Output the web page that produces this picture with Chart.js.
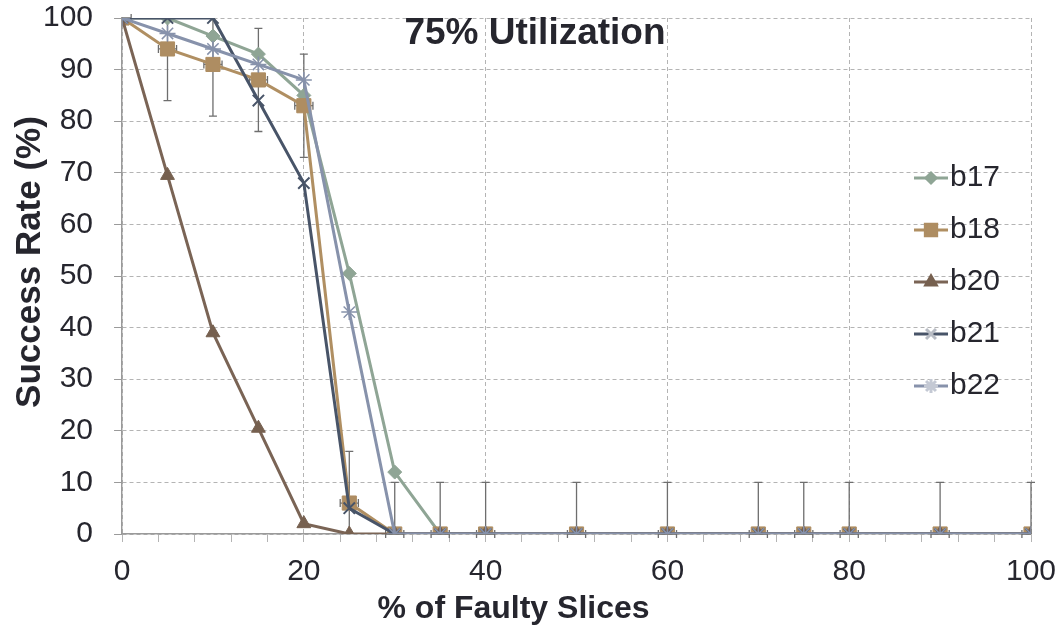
<!DOCTYPE html>
<html>
<head>
<meta charset="utf-8">
<title>75% Utilization</title>
<script src="https://cdn.jsdelivr.net/npm/chart.js@4.4.1/dist/chart.umd.min.js"></script>
<style>
  html, body { margin: 0; padding: 0; background: #fff; }
  #wrap { width: 1060px; height: 630px; }
</style>
</head>
<body>
<div id="wrap"><canvas id="successChart"></canvas></div>
<script>
// values
const faultyPct = [0, 5, 10, 15, 20, 25, 30, 35, 40, 50, 60, 70, 75, 80, 90, 100];
const b17 = [100, 100, 96.5, 93, 85, 50.5, 12, 0, 0, 0, 0, 0, 0, 0, 0, 0];
const b18 = [100, 94, 91, 88, 83, 6, 0, 0, 0, 0, 0, 0, 0, 0, 0, 0];
const b20 = [100, 69.5, 39, 20.5, 2, 0, 0, 0, 0, 0, 0, 0, 0, 0, 0, 0];
const b21 = [100, 100, 100, 84, 68, 5, 0, 0, 0, 0, 0, 0, 0, 0, 0, 0];
const b22 = [100, 97, 94, 91, 88, 43, 0, 0, 0, 0, 0, 0, 0, 0, 0, 0];
// error bars (shown on b18)
const b18ErrY = [0, 10, 10, 10, 10, 10, 10, 10, 10, 10, 10, 10, 10, 10, 10, 10];
const b18ErrX = [1, 1, 1, 1, 1, 1, 1, 1, 1, 1, 1, 1, 1, 1, 1, 1];

const textColor = '#26262e';
const fontFamily = "'Liberation Sans', Arial, Helvetica, sans-serif";

function toPoints(values) {
    return faultyPct.map(function(x, i) { return { x: x, y: values[i] }; });
}

// legend icon: short line with the series marker in the middle
function legendIcon(ds) {
    const c = document.createElement('canvas');
    c.width = 34;
    c.height = 18;
    const g = c.getContext('2d');
    g.strokeStyle = ds.borderColor;
    g.lineWidth = 3;
    g.beginPath();
    g.moveTo(0, 9);
    g.lineTo(34, 9);
    g.stroke();
    g.fillStyle = ds.pointBackgroundColor;
    g.strokeStyle = ds.legendMarkerColor || ds.pointBorderColor;
    Chart.helpers.drawPoint(g, {
        pointStyle: ds.pointStyle,
        radius: ds.legendRadius,
        borderWidth: ds.legendBorder,
        rotation: 0
    }, 17, 9);
    return c;
}

// vertical and horizontal error bars with caps
const errorBars = {
    id: 'errorBars',
    beforeDatasetsDraw(chart) {
        const ctx = chart.ctx;
        const x = chart.scales.x;
        const y = chart.scales.y;
        const cap = 4;
        ctx.save();
        ctx.strokeStyle = '#6e6e6e';
        ctx.lineWidth = 1.3;
        faultyPct.forEach(function(xv, i) {
            const yv = b18[i];
            const px = x.getPixelForValue(xv);
            const py = y.getPixelForValue(yv);
            const e = b18ErrY[i];
            if (e > 0) {
                const hi = yv + e, lo = yv - e;
                const yHi = y.getPixelForValue(Math.min(hi, y.max));
                const yLo = y.getPixelForValue(Math.max(lo, y.min));
                ctx.beginPath();
                ctx.moveTo(px, yHi);
                ctx.lineTo(px, yLo);
                if (hi <= y.max) { ctx.moveTo(px - cap, yHi); ctx.lineTo(px + cap, yHi); }
                if (lo >= y.min) { ctx.moveTo(px - cap, yLo); ctx.lineTo(px + cap, yLo); }
                ctx.stroke();
            }
            const ex = b18ErrX[i];
            if (ex > 0) {
                const l = xv - ex, r = xv + ex;
                const xL = x.getPixelForValue(Math.max(l, x.min));
                const xR = x.getPixelForValue(Math.min(r, x.max));
                ctx.beginPath();
                ctx.moveTo(xL, py);
                ctx.lineTo(xR, py);
                if (l >= x.min) { ctx.moveTo(xL, py - cap); ctx.lineTo(xL, py + cap); }
                if (r <= x.max) { ctx.moveTo(xR, py - cap); ctx.lineTo(xR, py + cap); }
                ctx.stroke();
            }
        });
        ctx.restore();
    }
};

// nudge an axis title off the centre of its axis
function shiftTitle(scale, dx, dy) {
    if (scale._titleShifted) return;
    scale._titleShifted = true;
    const draw = scale.drawTitle;
    scale.drawTitle = function() {
        this.left += dx; this.right += dx; this.top += dy; this.bottom += dy;
        draw.apply(this, arguments);
        this.left -= dx; this.right -= dx; this.top -= dy; this.bottom -= dy;
    };
}

// legend sits inside the plot area on the right, like the original
const placeBoxes = {
    id: 'placeBoxes',
    afterLayout(chart) {
        const area = chart.chartArea;
        const lg = chart.legend;
        lg.left = area.right - 126;
        lg.right = area.right;
        lg.top = area.top + 6;
        lg.bottom = area.bottom + 6;
        shiftTitle(chart.scales.x, -63, 0);
        shiftTitle(chart.scales.y, 0, -14);
    }
};

document.addEventListener('DOMContentLoaded', function() {
    Chart.defaults.font.family = fontFamily;
    Chart.defaults.color = textColor;
    Chart.defaults.responsive = true;
    Chart.defaults.maintainAspectRatio = false;
    Chart.defaults.animation = false;

    const ctx = document.getElementById('successChart').getContext('2d');
    const chart = new Chart(ctx, {
        type: 'line',
        data: {
            datasets: [
                {
                    label: 'b17',
                    data: toPoints(b17),
                    borderColor: '#8fa595',
                    pointBackgroundColor: '#8fa595',
                    pointBorderColor: '#8fa595',
                    pointStyle: 'rectRot',
                    pointRadius: 7,
                    pointBorderWidth: 1,
                    legendRadius: 5,
                    legendBorder: 1,
                    order: 4
                },
                {
                    label: 'b18',
                    data: toPoints(b18),
                    borderColor: '#b08f62',
                    pointBackgroundColor: '#ae8d62',
                    pointBorderColor: '#ae8d62',
                    pointStyle: 'rect',
                    pointRadius: 10,
                    pointBorderWidth: 1,
                    legendRadius: 8,
                    legendBorder: 1,
                    order: 3
                },
                {
                    label: 'b20',
                    data: toPoints(b20),
                    borderColor: '#7a6455',
                    pointBackgroundColor: '#76604f',
                    pointBorderColor: '#76604f',
                    pointStyle: 'triangle',
                    pointRadius: 8,
                    pointBorderWidth: 1,
                    legendRadius: 6,
                    legendBorder: 1,
                    order: 2
                },
                {
                    label: 'b21',
                    data: toPoints(b21),
                    borderColor: '#485468',
                    pointBackgroundColor: '#485468',
                    pointBorderColor: '#485468',
                    legendMarkerColor: '#b8bcc4',
                    pointStyle: 'crossRot',
                    pointRadius: 8,
                    pointBorderWidth: 2,
                    legendRadius: 7,
                    legendBorder: 1,
                    order: 1
                },
                {
                    label: 'b22',
                    data: toPoints(b22),
                    borderColor: '#8792ab',
                    pointBackgroundColor: '#8792ab',
                    pointBorderColor: '#8792ab',
                    legendMarkerColor: '#c4c9d4',
                    pointStyle: 'star',
                    pointRadius: 8,
                    pointBorderWidth: 1.5,
                    legendRadius: 7,
                    legendBorder: 1,
                    order: 0
                }
            ]
        },
        options: {
            layout: {
                padding: { left: 10, right: 0, top: 0, bottom: 1 }
            },
            elements: {
                line: { borderWidth: 3, tension: 0, fill: false }
            },
            plugins: {
                title: {
                    display: true,
                    text: '75% Utilization',
                    color: textColor,
                    font: { size: 37, weight: 'bold' },
                    padding: { top: 11.8, bottom: -38.2 }
                },
                legend: {
                    position: 'chartArea',
                    fullSize: false,
                    align: 'center',
                    labels: {
                        usePointStyle: true,
                        pointStyleWidth: 8,
                        padding: 22,
                        color: textColor,
                        font: { size: 30 },
                        generateLabels: function(chart) {
                            const items = Chart.defaults.plugins.legend.labels.generateLabels(chart);
                            items.forEach(function(it) {
                                it.pointStyle = legendIcon(chart.data.datasets[it.datasetIndex]);
                            });
                            return items;
                        },
                        sort: function(a, b) { return a.datasetIndex - b.datasetIndex; }
                    }
                },
                tooltip: { enabled: false }
            },
            scales: {
                x: {
                    type: 'linear',
                    min: 0,
                    max: 100,
                    afterFit: function(s) { s.paddingLeft = 0; s.paddingRight = 29; },
                    ticks: {
                        stepSize: 4,
                        autoSkip: false,
                        maxRotation: 0,
                        padding: 12,
                        color: textColor,
                        font: { size: 30 },
                        callback: function(v) { return v % 20 === 0 ? v : ''; }
                    },
                    grid: {
                        color: function(c) {
                            return (c.tick && c.tick.value % 20 === 0) ? '#b4b4b4' : 'rgba(0,0,0,0)';
                        },
                        tickColor: '#b4b4b4',
                        tickLength: 8
                    },
                    border: { color: '#9a9a9a', width: 1.5, dash: [4, 3] },
                    title: {
                        display: true,
                        text: '% of Faulty Slices',
                        color: textColor,
                        font: { size: 32, weight: 'bold' },
                        padding: { top: -12.2, bottom: 0.8 }
                    }
                },
                y: {
                    min: 0,
                    max: 100,
                    afterFit: function(s) { s.paddingTop = 18; s.paddingBottom = 0; },
                    ticks: {
                        stepSize: 10,
                        padding: 21,
                        color: textColor,
                        font: { size: 30 }
                    },
                    grid: {
                        color: '#b4b4b4',
                        tickColor: '#9a9a9a',
                        tickLength: 8
                    },
                    border: { color: '#9a9a9a', width: 1.5, dash: [4, 3] },
                    title: {
                        display: true,
                        text: 'Success Rate (%)',
                        color: textColor,
                        font: { size: 35, weight: 'bold' },
                        padding: { top: -1, bottom: -29 }
                    }
                }
            }
        },
        plugins: [errorBars, placeBoxes]
    });
});
</script>
</body>
</html>
